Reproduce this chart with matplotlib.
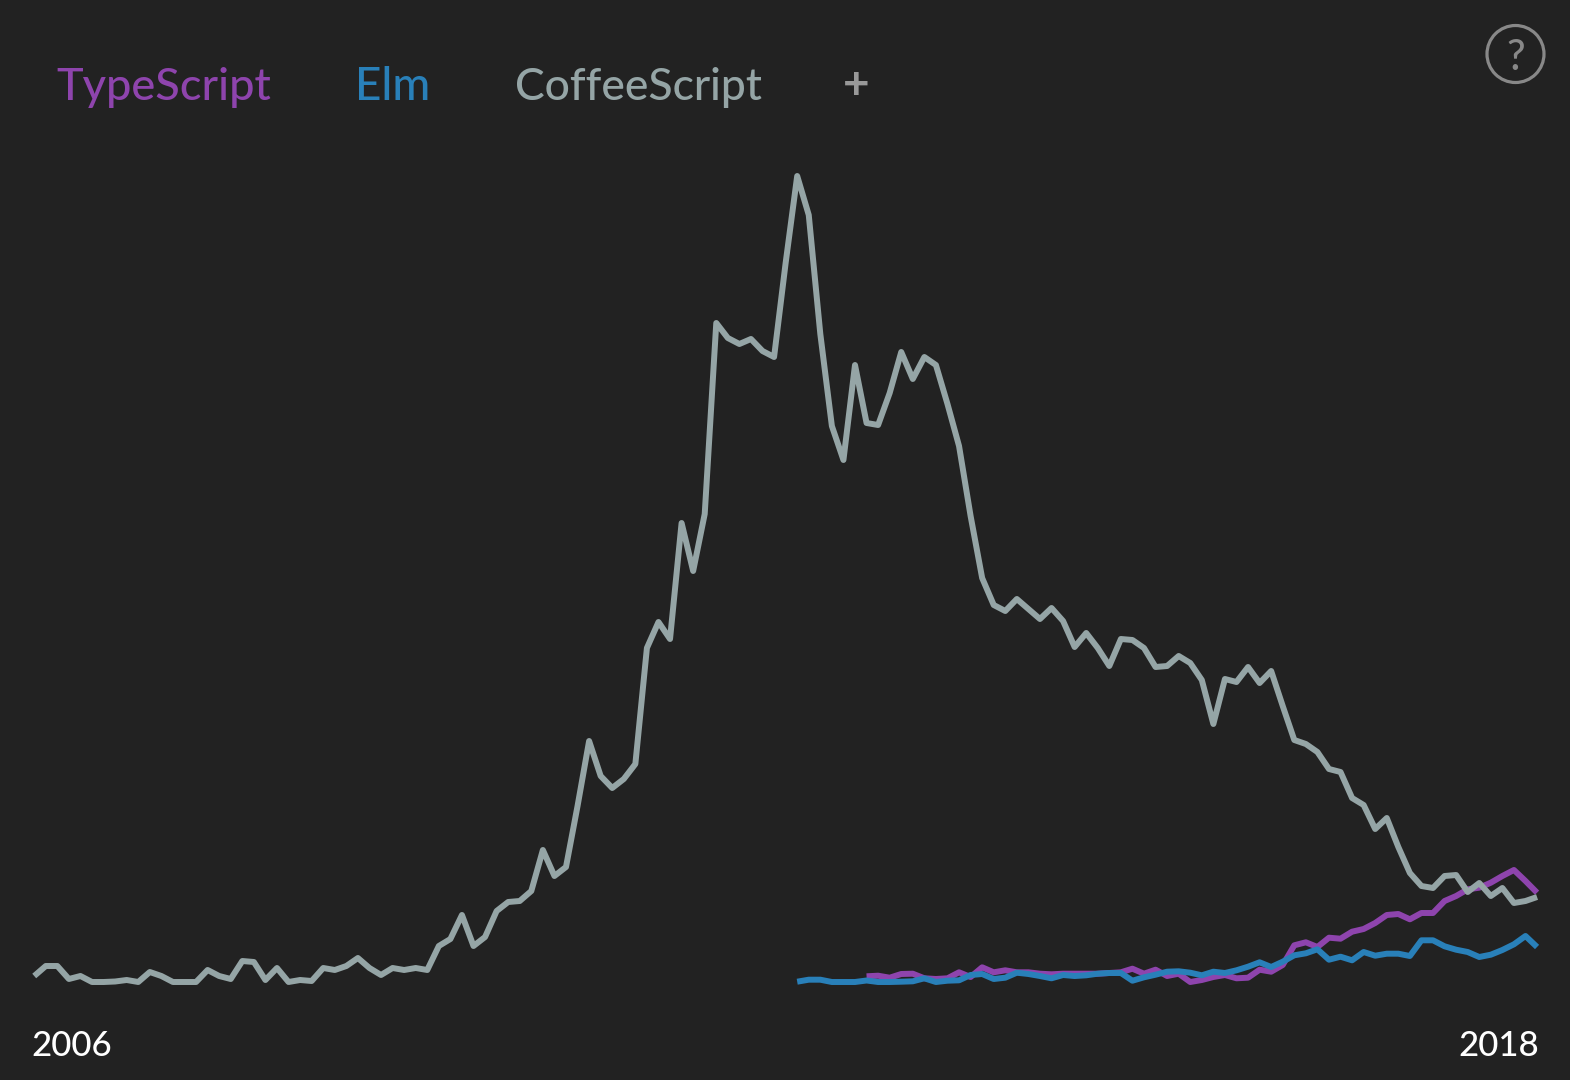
import numpy as np
import matplotlib
matplotlib.use("Agg")
import matplotlib.pyplot as plt
from matplotlib.patches import Circle
from matplotlib.transforms import IdentityTransform

# language share, in height above the zero line
coffeescript = [6, 16, 16, 3, 6, 0, 0, 0.5, 2, 0, 10, 6, 0, 0, 0, 12, 6, 3, 21, 20,
                2, 14, 0, 2, 1, 14, 12, 16, 24, 14, 7, 14, 12, 14, 12, 36, 43, 67, 36, 45,
                71, 80, 81, 91, 132, 106, 115, 176, 241, 206, 194, 203, 218, 334, 360, 343, 459, 411, 468, 659,
                644, 638, 643, 631, 625, 719, 806, 767, 648, 556, 522, 617, 559, 557, 589, 630, 603, 625, 617, 578,
                536, 466, 404, 377, 371, 383, 373, 363, 374, 361, 335, 349, 334, 316, 343, 342, 334, 315, 316, 326,
                319, 302, 258, 303, 300, 315, 299, 311, 276, 242, 238, 230, 213, 210, 184, 177, 153, 164, 135, 109,
                96, 94, 106, 107, 90, 99, 86, 94, 79, 81, 85]
elm = [0.3, 2.3, 2.3, 0, 0, 0, 1.5, 0, 0, 0.3, 0.7, 3.7, 0, 1.3, 1.7, 7, 8, 3, 4.3, 9.3,
       8, 6, 3.7, 7, 6, 6.7, 8.3, 9, 9, 1.3, 4.7, 7.3, 10.3, 10.7,
       9.3, 6.7, 10.3, 9, 11.7, 15.3, 19.7, 15, 20.3, 26.7, 28.7, 32.7, 22.3, 25.3, 21.7, 30,
       26.3, 28.3, 28.3, 26, 41.7, 41.7, 35.7, 32.3, 30, 25, 27.3, 32, 37.7, 46, 35]
typescript = [5.7, 6.3, 4.3, 8, 8.3, 3.7, 3, 3.7, 9.7, 5, 14.7, 9.7, 11.7, 9.7, 9.7, 8.3, 7.7, 8.3, 8.3, 8.3,
              8.3, 9, 9.7, 13.3, 8.3, 12.3, 6, 8.3,
              0, 2, 5, 7, 3.7, 4.3, 12.3, 10.3, 17, 36.7, 39.7, 35, 44.3, 43.3, 50.3, 53, 59, 67, 68, 62.7,
              69, 69, 81, 86, 92.7, 94.3, 99.3, 106, 112, 101, 89.3]
n_points = len(coffeescript)
names = ["TypeScript", "Elm", "CoffeeScript"]
years = ["2006", "2018"]

PURPLE = "#8e44ad"
BLUE = "#2980b9"
GRAY = "#95a5a6"
BG = "#222222"

plt.rcParams['font.family'] = ['Lato', 'DejaVu Sans']

fig = plt.figure(figsize=(15.7, 10.8), dpi=100, facecolor=BG)
ax = fig.add_axes([0, 0, 1, 1])
ax.set_facecolor(BG)
ax.axis("off")

# axes fills the whole figure, limits line the data up with the card
ax.set_xlim(-2.96, 132.85)
ax.set_ylim(-98, 982)

def draw(vals, color):
    xs = np.arange(n_points - len(vals), n_points)
    ax.plot(xs, vals, color=color, lw=4.3, solid_joinstyle="round", solid_capstyle="butt")

draw(typescript, PURPLE)
draw(elm, BLUE)
draw(coffeescript, GRAY)

W, H = 1570.0, 1080.0
for name, color, left, size in zip(names, [PURPLE, BLUE, GRAY], [56, 355, 515], [32.5, 33, 32]):
    fig.text(left / W, 1 - 100 / H, name, color=color, fontsize=size, fontweight="medium",
             va="baseline", ha="left")
fig.text(856 / W, 1 - 99 / H, "+", color="#999999", fontsize=33, fontweight="bold", va="baseline", ha="center")

fig.text(31 / W, 1 - 1056 / H, years[0], color="white", fontsize=25, fontweight="medium", va="baseline", ha="left")
fig.text(1539 / W, 1 - 1056 / H, years[1], color="white", fontsize=25, fontweight="medium", va="baseline", ha="right")

# help button, top right, sized in pixels
fig.add_artist(Circle((1515.5, H - 54), radius=28.5, transform=IdentityTransform(),
                      fill=False, ec="#888888", lw=2.3))
fig.text(1515.5 / W, 1 - 70 / H, "?", color="#888888", fontsize=30, fontweight="medium", va="baseline", ha="center")

fig.savefig("out.png", dpi=100, facecolor=BG)
